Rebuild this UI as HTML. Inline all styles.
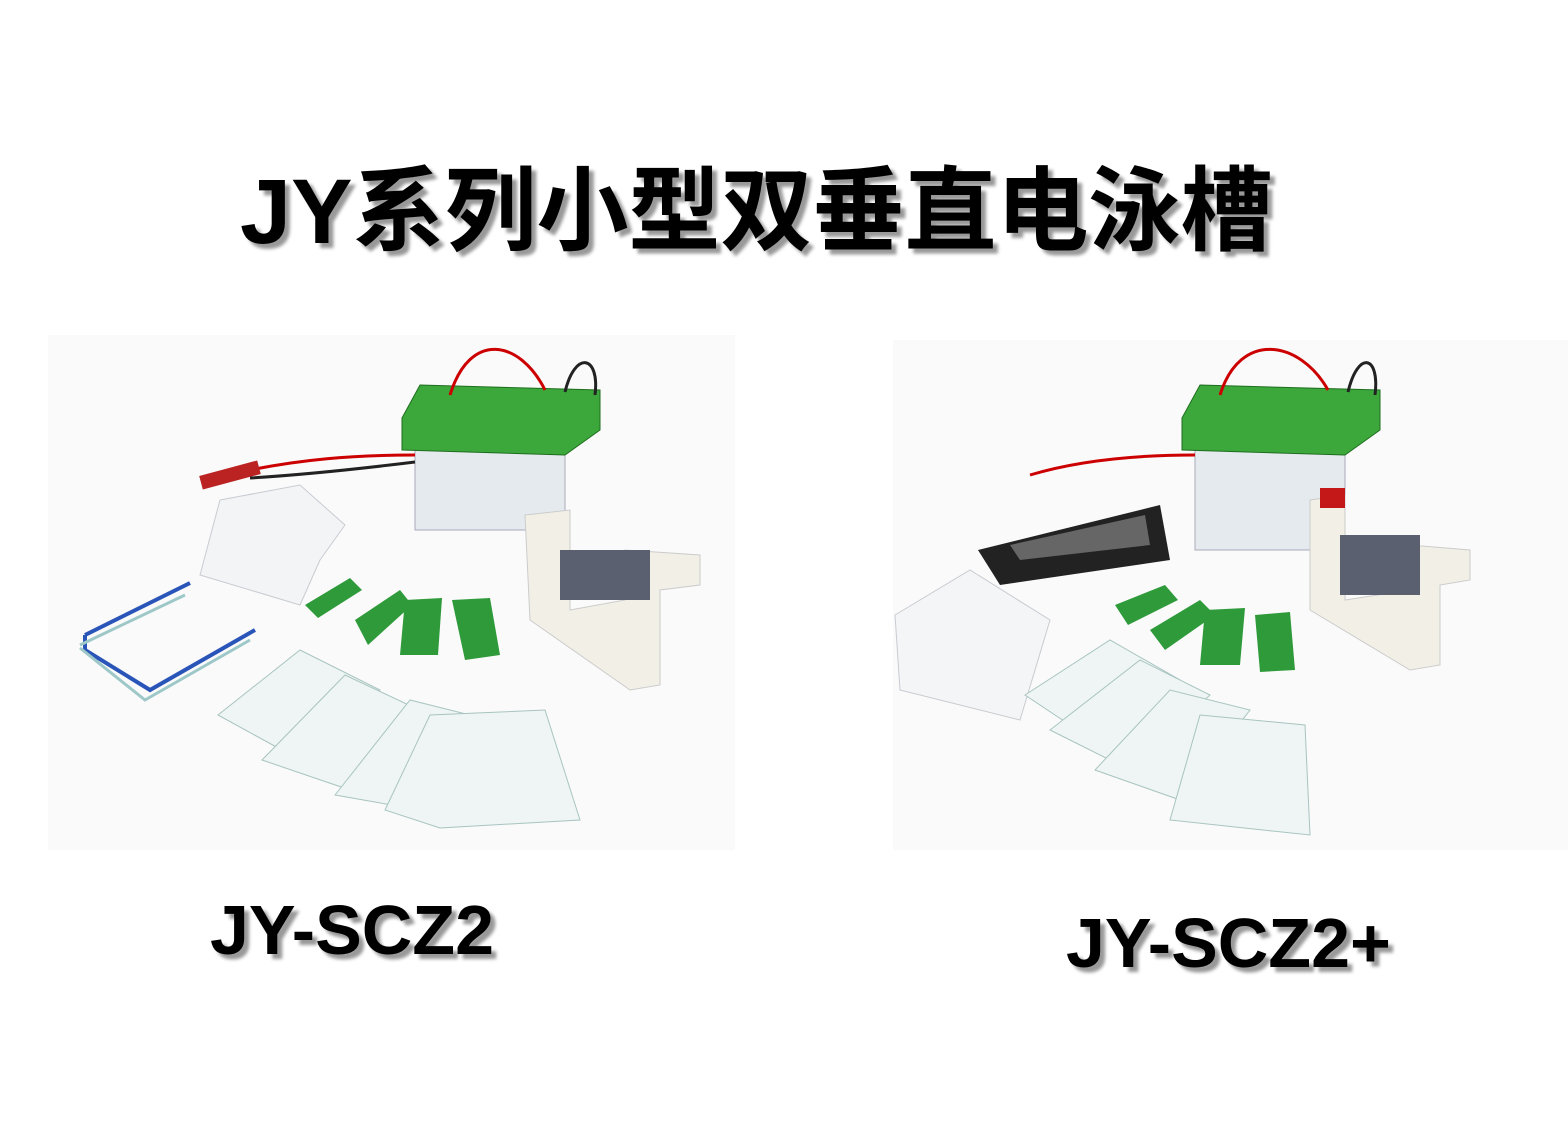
<!DOCTYPE html>
<html><head><meta charset="utf-8"><style>
body{margin:0;width:1568px;height:1143px;background:#fff;position:relative;overflow:hidden;font-family:"Liberation Sans","Noto Sans CJK SC",sans-serif}
.t{position:absolute;font-weight:bold;color:#000;text-shadow:5px 5px 3px #999;white-space:nowrap}
svg{position:absolute;left:0;top:0}
</style></head><body>
<svg width="1568" height="1143">
<rect x="48" y="335" width="687" height="515" fill="#fafafa"/>
<rect x="893" y="340" width="675" height="510" fill="#fafafa"/>
<g id="L">
 <rect x="415" y="440" width="150" height="90" fill="#e4eaee" stroke="#aab" />
 <polygon points="402,418 420,385 600,390 600,430 565,455 402,450" fill="#3ca83c" stroke="#1e6e1e"/>
 <path d="M450,395 C470,330 520,340 545,390" stroke="#c00" stroke-width="3" fill="none"/>
 <path d="M565,392 C575,350 600,355 595,395" stroke="#222" stroke-width="3" fill="none"/>
 <path d="M415,455 C350,455 300,460 250,470" stroke="#c00" stroke-width="3" fill="none"/>
 <path d="M415,462 C350,470 300,475 250,478" stroke="#222" stroke-width="3" fill="none"/>
 <rect x="200" y="468" width="60" height="14" fill="#b22" transform="rotate(-15 230 475)"/>
 <polygon points="525,515 570,510 570,610 625,600 625,550 700,555 700,585 660,590 660,685 630,690 530,620" fill="#f1efe6" stroke="#ccc"/>
 <rect x="560" y="550" width="90" height="50" fill="#5a6070"/>
 <polygon points="220,500 300,485 345,525 320,560 300,605 200,575" fill="#f2f4f6" stroke="#c8ccd2"/>
 <g fill="#2e9a3a">
  <polygon points="305,605 350,578 362,590 318,618"/>
  <polygon points="355,620 400,590 412,605 368,645"/>
  <polygon points="405,600 442,598 438,655 400,655"/>
  <polygon points="452,600 490,598 500,655 465,660"/>
 </g>
 <path d="M85,635 L190,583 M85,635 L85,650 L150,690 L255,630" stroke="#2a55b8" stroke-width="4" fill="none"/>
 <path d="M80,645 L185,595 M80,648 L145,700 L250,640" stroke="#9ec8c8" stroke-width="3" fill="none"/>
 <g fill="#eef5f4" stroke="#a8c4c0">
  <polygon points="218,715 300,650 380,690 300,760"/>
  <polygon points="262,760 345,675 430,715 350,790"/>
  <polygon points="335,795 410,700 490,720 420,810"/>
  <polygon points="385,810 430,715 545,710 580,820 440,828"/>
 </g>
</g>
<g transform="translate(780,0)">
 <rect x="415" y="440" width="150" height="110" fill="#e4eaee" stroke="#aab" />
 <polygon points="402,418 420,385 600,390 600,430 565,455 402,450" fill="#3ca83c" stroke="#1e6e1e"/>
 <path d="M440,395 C460,330 520,340 548,390" stroke="#c00" stroke-width="3" fill="none"/>
 <path d="M568,392 C578,350 600,355 595,395" stroke="#222" stroke-width="3" fill="none"/>
 <path d="M415,455 C360,455 300,460 250,475" stroke="#c00" stroke-width="3" fill="none"/>
 <polygon points="530,500 565,495 565,600 630,590 630,545 690,550 690,580 660,585 660,665 630,670 530,610" fill="#f1efe6" stroke="#ccc"/>
 <rect x="540" y="488" width="25" height="20" fill="#c41818"/>
 <rect x="560" y="535" width="80" height="60" fill="#5a6070"/>
</g>
<polygon points="978,550 1160,505 1170,560 1000,585" fill="#222"/>
<polygon points="1010,545 1145,515 1150,545 1020,560" fill="#666"/>
<polygon points="895,615 970,570 1050,620 1020,720 900,690" fill="#f4f5f6" stroke="#c8ccd2"/>
<g fill="#2e9a3a">
 <polygon points="1115,605 1165,585 1178,600 1128,625"/>
 <polygon points="1150,630 1200,600 1215,615 1165,650"/>
 <polygon points="1205,610 1245,608 1240,665 1200,665"/>
 <polygon points="1255,615 1290,612 1295,670 1260,672"/>
</g>
<g fill="#eef5f4" stroke="#a8c4c0">
 <polygon points="1025,695 1110,640 1180,680 1100,745"/>
 <polygon points="1050,730 1140,660 1210,695 1130,770"/>
 <polygon points="1095,770 1170,690 1250,710 1180,800"/>
 <polygon points="1170,820 1200,715 1305,725 1310,835"/>
</g>
</svg>
<div class="t" style="left:240px;top:137px;font-size:92px;letter-spacing:0px">JY系列小型双垂直电泳槽</div>
<div class="t" style="left:210px;top:890px;font-size:70px;letter-spacing:0px">JY-SCZ2</div>
<div class="t" style="left:1066px;top:903px;font-size:70px;letter-spacing:0px">JY-SCZ2+</div>
</body></html>
